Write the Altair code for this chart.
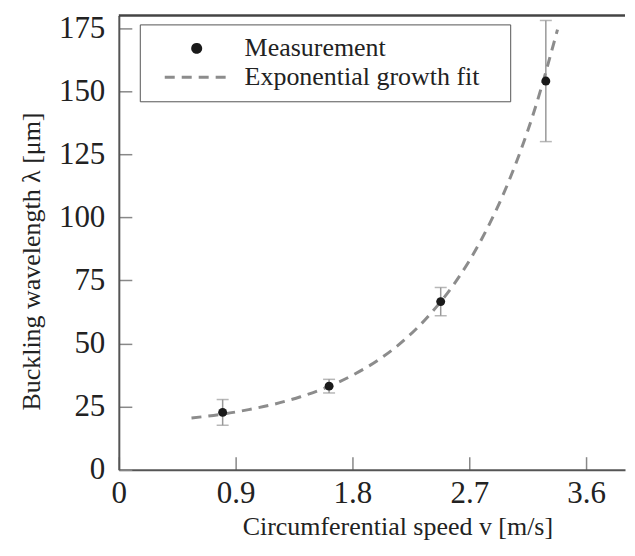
import altair as alt
import pandas as pd

speed = [0.80, 1.62, 2.48, 3.29]
wavelength = [22.7, 33.1, 66.6, 154.0]
error = [5.1, 2.7, 5.6, 24.0]

# Points along the dashed fit curve
fit_speed = [0.56, 0.8, 1.0, 1.2, 1.4, 1.6, 1.8, 2.0, 2.2, 2.4, 2.6, 2.8, 3.0, 3.2, 3.38]
fit_wavelength = [20.5, 22.0, 23.8, 26.0, 28.9, 32.6, 37.4, 43.5, 51.4, 61.7, 74.8, 91.8, 113.7, 142.0, 174.4]

x_ticks = [0, 0.9, 1.8, 2.7, 3.6]
y_ticks = [0, 25, 50, 75, 100, 125, 150, 175]
series = ["Measurement", "Exponential growth fit"]

meas = pd.DataFrame({
    "speed": speed,
    "wavelength": wavelength,
    "low": [w - e for w, e in zip(wavelength, error)],
    "high": [w + e for w, e in zip(wavelength, error)],
    "series": "Measurement",
})
fit = pd.DataFrame({"speed": fit_speed, "wavelength": fit_wavelength,
                    "series": "Exponential growth fit"})

FONT = "Liberation Serif"
XMAX, YMAX = 3.9, 180

x_scale = alt.Scale(domain=[0, XMAX], nice=False, zero=False)
y_scale = alt.Scale(domain=[0, YMAX], nice=False)

x_axis = alt.Axis(values=x_ticks, format="~g", title="Circumferential speed v [m/s]",
                  tickSize=alt.ExprRef(expr="-13"), labelPadding=22, titlePadding=5,
                  titleX=279, labelFlush=False)
y_axis = alt.Axis(values=y_ticks, title="Buckling wavelength λ [μm]",
                  tickSize=alt.ExprRef(expr="-13"), labelPadding=27, titlePadding=14,
                  titleY=246, labelFlush=False)

leg = alt.Legend(title=None, orient="none", legendX=21, legendY=9,
                 strokeColor="#555", fillColor="white", padding=11,
                 labelFont=FONT, labelFontSize=26, labelColor="#222", labelLimit=500,
                 symbolSize=64, symbolStrokeWidth=3, symbolOffset=33,
                 labelOffset=35, rowPadding=3,
                 labelExpr="datum.label + '\u2800'")

color_enc = alt.Color("series:N", scale=alt.Scale(domain=series, range=["#1a1a1a", "#8c8c8c"]), legend=leg)
shape_enc = alt.Shape("series:N", scale=alt.Scale(domain=series, range=["circle", "M-8,0H8"]), legend=leg)
dash_enc = alt.StrokeDash("series:N", scale=alt.Scale(domain=series, range=[[1, 0], [10, 7]]), legend=leg)

X = alt.X("speed:Q", scale=x_scale, axis=x_axis)

top = alt.Chart(pd.DataFrame({"a": [0]})).mark_rule(color="#444", strokeWidth=2.5).encode(
    x=alt.datum(0), x2=alt.datum(XMAX), y=alt.datum(YMAX))

err_rule = alt.Chart(meas).mark_rule(color="#999", strokeWidth=1.5).encode(
    x=X, y=alt.Y("low:Q", scale=y_scale, axis=y_axis), y2="high:Q")
cap_low = alt.Chart(meas).mark_tick(color="#999", orient="horizontal", size=12, thickness=1.5).encode(
    x=X, y=alt.Y("low:Q", scale=y_scale, axis=y_axis))
cap_high = alt.Chart(meas).mark_tick(color="#999", orient="horizontal", size=12, thickness=1.5).encode(
    x=X, y=alt.Y("high:Q", scale=y_scale, axis=y_axis))

line = alt.Chart(fit).mark_line(strokeWidth=3, interpolate="monotone").encode(
    x=X, y=alt.Y("wavelength:Q", scale=y_scale, axis=y_axis),
    color=color_enc, strokeDash=dash_enc)

points = alt.Chart(meas).mark_point(filled=True, size=80, opacity=1).encode(
    x=X, y=alt.Y("wavelength:Q", scale=y_scale, axis=y_axis),
    color=color_enc, shape=shape_enc)

chart = alt.layer(top, err_rule, cap_low, cap_high, line, points).properties(
    width=507, height=455,
    padding={"left": 10, "top": 3, "right": 0, "bottom": 3},
).configure_axis(
    labelFont=FONT, titleFont=FONT, labelFontSize=31, titleFontSize=26,
    labelColor="#222", titleColor="#222", titleFontWeight="normal",
    domainColor="#555", domainWidth=2, tickColor="#888", tickWidth=1.5, grid=False,
).configure_view(stroke=None)

chart.save("out.html", embed_options={"renderer": "svg", "actions": False})
